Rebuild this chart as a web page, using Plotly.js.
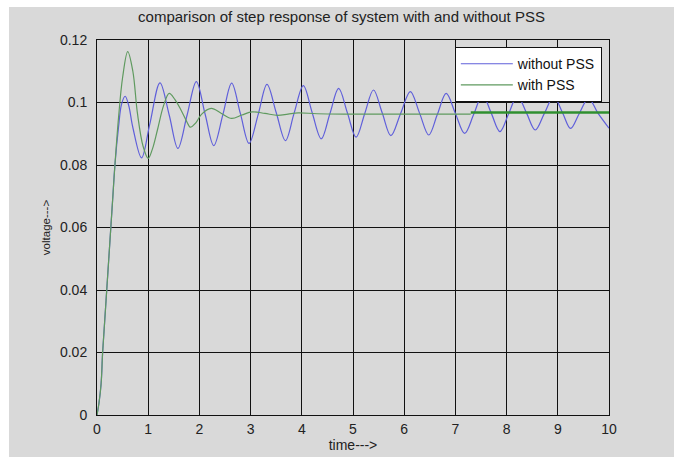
<!DOCTYPE html>
<html>
<head>
<meta charset="utf-8">
<script src="https://cdn.plot.ly/plotly-3.0.1.min.js"></script>
<style>
  html, body { margin: 0; padding: 0; background: #ffffff; }
  #chart { position: absolute; left: 9px; top: 7px; width: 665px; height: 450px; }
</style>
</head>
<body>
<div id="chart"></div>
<script>
// Step response of the system without PSS (time in s, voltage)
const tWithout = [0, 0.04, 0.08, 0.11, 0.15, 0.19, 0.23, 0.27, 0.31, 0.35, 0.42, 0.48, 0.55, 0.62, 0.70, 0.87,
  1.03, 1.23, 1.41, 1.58, 1.76, 1.94, 2.11, 2.28, 2.46, 2.63, 2.80, 2.97, 3.15, 3.32, 3.50, 3.68, 3.85,
  4.03, 4.20, 4.38, 4.55, 4.72, 4.89, 5.06, 5.23, 5.40, 5.57, 5.74, 5.93, 6.12, 6.30, 6.48, 6.65, 6.82,
  7.00, 7.18, 7.36, 7.53, 7.70, 7.87, 8.04, 8.21, 8.39, 8.56, 8.74, 8.92, 9.09, 9.25, 9.42, 9.60, 9.78, 10.0];
const vWithout = [0, 0.004, 0.010, 0.020, 0.030, 0.040, 0.050, 0.060, 0.070, 0.080, 0.092, 0.0995, 0.102, 0.0990, 0.0920, 0.0823,
  0.0930, 0.1063, 0.0960, 0.0853, 0.0960, 0.1067, 0.0964, 0.0862, 0.0962, 0.1062, 0.0965, 0.0869, 0.0963, 0.1058, 0.0968, 0.0878, 0.0966,
  0.1054, 0.0969, 0.0884, 0.0965, 0.1045, 0.0967, 0.0889, 0.0965, 0.1040, 0.0967, 0.0894, 0.0965, 0.1035, 0.0966, 0.0896, 0.0963, 0.1029,
  0.0965, 0.0901, 0.0963, 0.1024, 0.0966, 0.0907, 0.0964, 0.1021, 0.0966, 0.0912, 0.0966, 0.1019, 0.0968, 0.0917, 0.0965, 0.1013, 0.0967, 0.0918];

// Step response of the system with PSS
const tWith = [0, 0.04, 0.08, 0.11, 0.15, 0.19, 0.23, 0.27, 0.31, 0.35, 0.42, 0.50, 0.60, 0.70, 0.79, 0.90, 1.00,
  1.08, 1.18, 1.30, 1.41, 1.52, 1.64, 1.78, 1.82, 1.93, 2.04, 2.23, 2.43, 2.63, 2.83, 3.03, 3.28, 3.53, 3.73,
  3.93, 4.30, 5.00, 6.00, 7.00, 7.30];
const vWith = [0, 0.004, 0.010, 0.020, 0.030, 0.040, 0.050, 0.060, 0.070, 0.080, 0.095, 0.108, 0.1163, 0.1100, 0.0965, 0.0860, 0.0821,
  0.0850, 0.0912, 0.0990, 0.1029, 0.1010, 0.0976, 0.0930, 0.0921, 0.0935, 0.0962, 0.0981, 0.0965, 0.0949, 0.0960, 0.0970, 0.0965, 0.0959, 0.0963,
  0.0967, 0.0964, 0.0963, 0.0963, 0.0963, 0.0963];
// Final stretch of the with-PSS response, drawn heavier
const tWithTail = [7.30, 10.0];
const vWithTail = [0.0968, 0.0968];

const xTicks = [0, 1, 2, 3, 4, 5, 6, 7, 8, 9, 10];
const yTicks = [0, 0.02, 0.04, 0.06, 0.08, 0.10, 0.12];
const yTickText = ['0', '0.02', '0.04', '0.06', '0.08', '0.1', '0.12'];

const FONT = 'Liberation Sans, Arial, sans-serif';

const traces = [
  {
    x: tWithout, y: vWithout, type: 'scatter', mode: 'lines', name: 'without PSS',
    line: { color: '#5f5fda', width: 1.2, shape: 'spline', smoothing: 1 }
  },
  {
    x: tWith, y: vWith, type: 'scatter', mode: 'lines', name: 'with PSS', legendgroup: 'pss',
    line: { color: '#5f9a5f', width: 1.2, shape: 'spline', smoothing: 1 }
  },
  {
    x: tWithTail, y: vWithTail, type: 'scatter', mode: 'lines', name: 'with PSS',
    showlegend: false, legendgroup: 'pss',
    line: { color: '#2f8f2f', width: 2.5 }
  }
];

const axisCommon = {
  showgrid: true, gridcolor: '#111111', gridwidth: 1,
  showline: true, linecolor: '#111111', linewidth: 1, mirror: true,
  zeroline: false, ticks: '',
  tickfont: { family: FONT, size: 14, color: '#222222' }
};

const layout = {
  width: 665, height: 450,
  paper_bgcolor: '#d9d9d9', plot_bgcolor: '#d9d9d9',
  margin: { l: 88, r: 65, t: 33, b: 42 },
  font: { family: FONT, color: '#222222' },
  title: {
    text: 'comparison of step response of system with and without PSS',
    font: { family: FONT, size: 15, color: '#222222' },
    x: 0.5, xref: 'container', xanchor: 'center',
    y: 1 - 10 / 450, yref: 'container', yanchor: 'middle'
  },
  xaxis: Object.assign({}, axisCommon, {
    range: [0, 10], tickvals: xTicks, ticktext: xTicks.map(String),
    ticklabelstandoff: 1,
    title: { text: 'time--->', font: { family: FONT, size: 14, color: '#222222' }, standoff: 2 }
  }),
  yaxis: Object.assign({}, axisCommon, {
    range: [0, 0.12], tickvals: yTicks, ticktext: yTickText,
    ticklabelstandoff: 6,
    title: { text: 'voltage--->', font: { family: FONT, size: 11.5, color: '#222222' }, standoff: 6 }
  }),
  legend: {
    x: 0.986, xanchor: 'right', y: 0.981, yanchor: 'top',
    bgcolor: '#ffffff', bordercolor: '#111111', borderwidth: 1,
    font: { family: FONT, size: 14, color: '#111111' },
    itemwidth: 52, traceorder: 'normal', tracegroupgap: 0
  },
  showlegend: true
};

Plotly.newPlot('chart', traces, layout, { displayModeBar: false, staticPlot: true });
</script>
</body>
</html>
